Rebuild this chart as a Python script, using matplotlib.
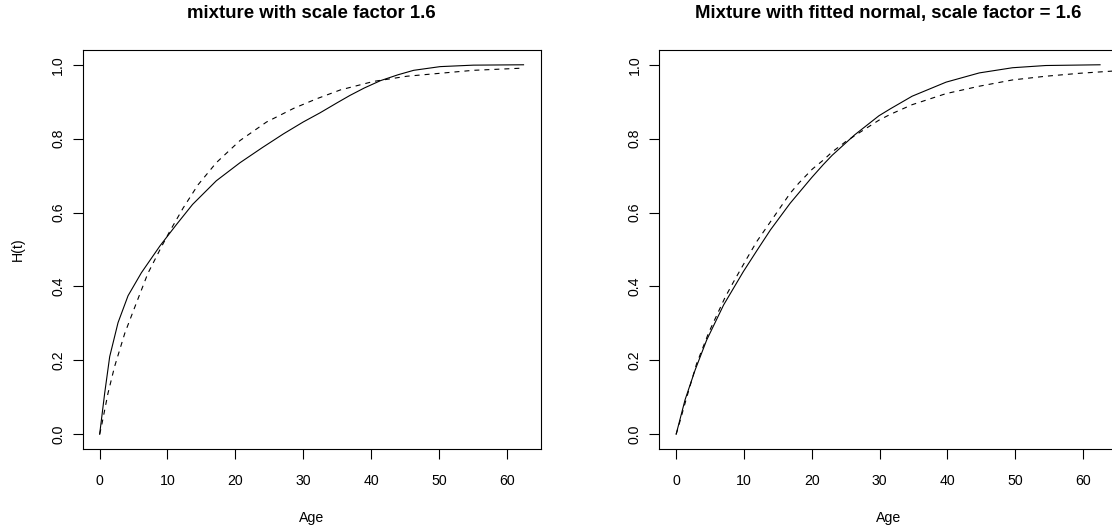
import numpy as np
import matplotlib
import matplotlib.pyplot as plt

matplotlib.use('Agg')
plt.rcParams['font.family'] = ['Liberation Sans', 'DejaVu Sans']
plt.rcParams['lines.scale_dashes'] = False

# H(t) curves per panel: mixture (solid) vs comparison (dashed)
left_solid_age = [0, 0.74, 1.48, 2.71, 4.19, 6.15, 8.9, 11.3, 13.7, 17.2, 20.7,
                  24.0, 27.1, 30.0, 32.5, 35.0, 36.9, 39.0, 41.4, 44.0, 46.3,
                  50.2, 55.1, 62.5]
left_solid_h = [0, 0.111, 0.21, 0.302, 0.375, 0.437, 0.51, 0.567, 0.622, 0.686,
                0.735, 0.776, 0.813, 0.845, 0.870, 0.897, 0.917, 0.937, 0.957,
                0.973, 0.985, 0.995, 0.999, 1.0]

left_dash_age = [0, 0.25, 1.23, 2.2, 3.7, 5.2, 7.1, 9.1, 10.3, 12.3, 14.5, 17.2,
                 20.7, 24.6, 28.6, 32.0, 35.5, 40.4, 45.3, 50.2, 55.1, 62.5]
left_dash_h = [0, 0.02, 0.111, 0.183, 0.273, 0.345, 0.435, 0.507, 0.548, 0.612,
               0.675, 0.735, 0.795, 0.845, 0.882, 0.908, 0.932, 0.955, 0.969,
               0.977, 0.985, 0.991]

right_solid_age = [0, 1.31, 2.8, 4.5, 7.0, 9.9, 11.9, 13.9, 16.8, 20.0, 21.7,
                   23.0, 26.3, 29.9, 31.6, 34.8, 39.8, 44.7, 49.6, 54.5, 62.5]
right_solid_h = [0, 0.093, 0.174, 0.255, 0.350, 0.44, 0.497, 0.553, 0.625, 0.695,
                 0.73, 0.755, 0.81, 0.862, 0.881, 0.915, 0.953, 0.978, 0.992,
                 0.998, 1.0]

right_dash_age = [0, 0.33, 1.56, 3.0, 4.8, 7.2, 8.45, 10.4, 11.9, 13.9, 16.8,
                  18.1, 20.1, 21.7, 23.0, 25.0, 27.5, 29.9, 31.6, 34.8, 39.8,
                  44.7, 49.6, 54.5, 59.5, 64.4, 67.0]
right_dash_h = [0, 0.02, 0.10, 0.19, 0.275, 0.37, 0.412, 0.475, 0.522, 0.575,
                0.652, 0.68, 0.718, 0.742, 0.764, 0.792, 0.822, 0.85, 0.866, 0.892,
                0.922, 0.942, 0.959, 0.969, 0.977, 0.983, 0.986]

x_ticks = [0, 10, 20, 30, 40, 50, 60]
y_ticks = [0.0, 0.2, 0.4, 0.6, 0.8, 1.0]
titles = ['mixture with scale factor 1.6',
          'Mixture with fitted normal, scale factor = 1.6']

W, H = 1112, 528
fig = plt.figure(figsize=(W / 100, H / 100), dpi=100)

# panel boxes in pixels (left, top, right, bottom); right one runs off the page
boxes = [(82.7, 50, 540.5, 449), (659.2, 50, 1117.0, 449)]
panels = [
    (left_solid_age, left_solid_h, left_dash_age, left_dash_h),
    (right_solid_age, right_solid_h, right_dash_age, right_dash_h),
]

for i, ((l, t, r, b), (sa, sh, da, dh)) in enumerate(zip(boxes, panels)):
    ax = fig.add_axes([l / W, 1 - b / H, (r - l) / W, (b - t) / H])
    ax.plot(sa, sh, color='black', lw=0.8)
    ax.plot(da, dh, color='black', lw=0.8, ls=(0, (3.6, 3.6)))
    ax.set_xlim(-2.5, 65.0)
    ax.set_ylim(-0.04, 1.04)
    ax.set_xticks(x_ticks)
    ax.set_xticklabels([str(v) for v in x_ticks])
    ax.set_yticks(y_ticks)
    ax.set_yticklabels([f'{v:.1f}' for v in y_ticks], rotation=90, va='center')
    ax.tick_params(axis='both', length=7.2, width=0.8, labelsize=10.2, color='black')
    ax.tick_params(axis='x', pad=10.5)
    ax.tick_params(axis='y', pad=5.5)
    for sp in ax.spines.values():
        sp.set_linewidth(0.8)
        sp.set_color('black')

    ax.text(0.5, 1 + 31.5 / (b - t), titles[i], transform=ax.transAxes,
            ha='center', va='baseline', fontsize=13.4, fontweight='bold')
    ax.text(0.5, -72.7 / (b - t), 'Age', transform=ax.transAxes,
            ha='center', va='baseline', fontsize=10.2)
    if i == 0:
        ax.text((17.9 - l) / (r - l), 0.5, 'H(t)', transform=ax.transAxes,
                rotation=90, ha='center', va='center', fontsize=10.2)

fig.savefig('out.png', dpi=100)
